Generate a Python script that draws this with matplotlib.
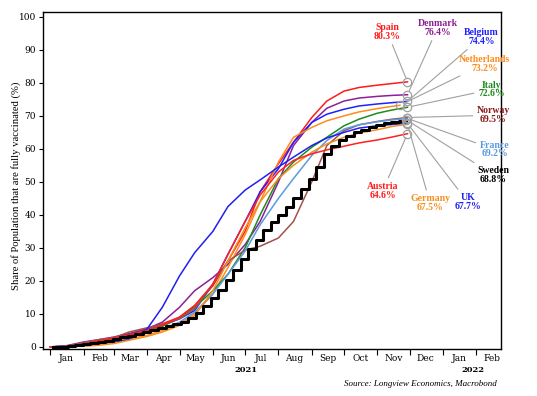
import numpy as np
import pandas as pd
import matplotlib
matplotlib.use('Agg')
import matplotlib.pyplot as plt
import matplotlib.dates as mdates

# semi-monthly readings (share fully vaccinated, %)
dates = ['2021-01-01', '2021-01-15', '2021-02-01', '2021-02-15', '2021-03-01',
         '2021-03-15', '2021-04-01', '2021-04-15', '2021-05-01', '2021-05-15',
         '2021-06-01', '2021-06-15', '2021-07-01', '2021-07-15', '2021-08-01',
         '2021-08-15', '2021-09-01', '2021-09-15', '2021-10-01', '2021-10-15',
         '2021-11-01', '2021-11-15', '2021-11-29']

spain = [0, 0.1, 1.0, 2.0, 2.8, 3.8, 5.5, 7, 9, 12.5, 18.5, 26, 35, 47, 55.5,
         62, 69.5, 74.5, 77.5, 78.6, 79.3, 79.8, 80.3]
denmark = [0, 0.3, 1.5, 2.2, 3, 4, 5.5, 7.5, 12, 17, 21, 25, 31, 38, 50,
           61, 68, 72.3, 74.5, 75.4, 75.9, 76.2, 76.4]
belgium = [0, 0.2, 0.7, 1.5, 2.5, 3.5, 5, 6.5, 8.5, 11, 19, 28, 38, 47, 54,
           62, 68, 70.5, 72, 73, 73.6, 74, 74.4]
netherlands = [0, 0, 0.3, 0.8, 1.5, 2.5, 3.5, 5, 7, 10, 16, 24, 34, 44, 56,
               63.5, 66.5, 68.5, 70, 71.2, 72.2, 72.9, 73.2]
italy = [0, 0.1, 0.5, 1.9, 2.4, 3.3, 4.8, 6.2, 8.8, 12, 17, 22, 30, 40, 51,
         56, 60.5, 63.5, 67, 69, 70.8, 71.8, 72.6]
norway = [0, 0.2, 1.3, 2.2, 2.8, 4.5, 5.8, 6.8, 8.5, 11.5, 19, 26, 29.3, 30.5, 33,
          38, 50, 61, 65.5, 67.3, 68.3, 69, 69.5]
france = [0, 0.1, 0.4, 1.2, 2, 3, 4.2, 5.5, 7.5, 10.5, 16, 22, 29, 37, 45,
          51, 58, 62.5, 66, 67.3, 68.2, 68.8, 69.2]
uk = [0, 0.2, 0.8, 1.0, 1.5, 2.2, 5.5, 12, 21.5, 28.5, 35, 42.5, 47.5, 50.6,
      54.5, 57.5, 61, 63.3, 65, 66.3, 67, 67.4, 67.7]
germany = [0, 0.1, 0.2, 0.5, 1, 2, 3.2, 4.5, 6.5, 9.5, 17, 26, 36, 44, 51,
           55, 59, 61.5, 63.5, 64.8, 65.8, 66.8, 67.5]
austria = [0, 0.1, 0.8, 1.8, 2.6, 3.6, 5, 6.5, 9, 12.5, 19, 28, 38, 46, 53,
           56.5, 58.5, 59.7, 60.8, 61.8, 62.7, 63.6, 64.6]

# Sweden reports weekly (stepped line)
sweden_start = '2021-01-03'
sweden = [0.0, 0.1, 0.3, 0.5, 0.8, 1.1, 1.4, 1.9, 2.4, 2.9, 3.4, 4.0,
          4.6, 5.2, 5.7, 6.3, 6.9, 7.6, 8.7, 10.2, 12.3, 14.8, 17.3, 20.2,
          23.3, 26.5, 29.6, 32.5, 35.5, 37.8, 40.0, 42.5, 45.0, 47.8, 51.0, 54.5,
          58.5, 61.0, 62.8, 64.0, 65.0, 65.8, 66.6, 67.2, 67.7, 68.1, 68.5, 68.8]

countries = ['Spain', 'Denmark', 'Belgium', 'Netherlands', 'Italy', 'Norway',
             'France', 'Sweden', 'UK', 'Germany', 'Austria']
latest = [80.3, 76.4, 74.4, 73.2, 72.6, 69.5, 69.2, 68.8, 67.7, 67.5, 64.6]
last_date = {'Netherlands': '2021-11-22'}

series = {'Spain': spain, 'Denmark': denmark, 'Belgium': belgium,
          'Netherlands': netherlands, 'Italy': italy, 'Norway': norway,
          'France': france, 'UK': uk, 'Germany': germany, 'Austria': austria}

line_colors = {'Spain': '#ff1a1a', 'Denmark': '#8e1f96', 'Belgium': '#1f1fff',
               'Netherlands': '#ff8c1a', 'Italy': '#1e8c1e', 'Norway': '#a0524a',
               'France': '#5b9be0', 'Sweden': '#000000', 'UK': '#2020f0',
               'Germany': '#f5901e', 'Austria': '#ff2020'}
text_colors = dict(line_colors, Norway='#8b1a1a', Austria='#ff1a1a')

# label centre positions (day offset from 2021-01-01, y value)
label_pos = {'Spain': (313, 95.5), 'Denmark': (360, 96.7), 'Belgium': (401, 93.9),
             'Netherlands': (404, 85.8), 'Italy': (410, 78.0), 'Norway': (412, 70.2),
             'France': (413, 59.8), 'Sweden': (412, 52.1), 'UK': (388, 43.9),
             'Germany': (353, 43.6), 'Austria': (309, 47.3)}


def main():
    plt.rcParams['font.family'] = ['DejaVu Serif']
    fig = plt.figure(figsize=(5.37, 3.96), dpi=100)
    ax = fig.add_axes([0.080, 0.119, 0.853, 0.851])

    x = pd.to_datetime(dates)
    base = pd.Timestamp('2021-01-01')
    ends = {}
    for name, vals in series.items():
        xs = list(x)
        if name in last_date:
            xs[-1] = pd.Timestamp(last_date[name])
        ax.plot(xs, vals, color=line_colors[name], lw=1.1, zorder=2)
        ends[name] = (xs[-1], vals[-1])

    sx = pd.date_range(sweden_start, periods=len(sweden), freq='7D')
    ax.plot(sx, sweden, color='black', lw=2.2, drawstyle='steps-post', zorder=3)
    ends['Sweden'] = (sx[-1], sweden[-1])

    for name, val in zip(countries, latest):
        ex, ey = ends[name]
        ax.plot([ex], [ey], 'o', ms=6, mfc='none', mec='#a0a0a0', mew=0.9, zorder=4)
        dx, dy = label_pos[name]
        ax.annotate(f'{name}\n{val:.1f}%', xy=(ex, ey),
                    xytext=(base + pd.Timedelta(days=dx), dy),
                    ha='center', va='center', fontsize=7, fontweight='bold',
                    color=text_colors[name], linespacing=0.95,
                    family='Liberation Serif',
                    arrowprops=dict(arrowstyle='-', color='#a0a0a0', lw=0.8,
                                    shrinkA=1, shrinkB=3),
                    annotation_clip=False, zorder=5)

    ax.set_xlim(pd.Timestamp('2020-12-25'), pd.Timestamp('2022-02-24'))
    ax.set_ylim(-0.6, 101.5)
    ax.set_yticks(range(0, 101, 10))
    ax.tick_params(axis='y', labelsize=6.5, length=3, width=0.8, pad=2)

    ax.xaxis.set_major_locator(mdates.MonthLocator())
    ax.xaxis.set_major_formatter(plt.NullFormatter())
    ax.xaxis.set_minor_locator(mdates.MonthLocator(bymonthday=16))
    ax.xaxis.set_minor_formatter(mdates.DateFormatter('%b'))
    ax.tick_params(axis='x', which='major', length=4, width=0.8)
    ax.tick_params(axis='x', which='minor', length=0, labelsize=6.5, pad=4)

    for s in ax.spines.values():
        s.set_linewidth(1.0)

    ax.set_ylabel('Share of Population that are fully vaccinated (%)', fontsize=7.7,
                  family='Liberation Serif')
    ax.yaxis.set_label_coords(-0.047, 0.484)

    trans = ax.get_xaxis_transform()
    ax.text(base + pd.Timedelta(days=182), -0.063, '2021', transform=trans,
            ha='center', va='center', fontsize=6, fontweight='bold')
    ax.text(base + pd.Timedelta(days=393), -0.063, '2022', transform=trans,
            ha='center', va='center', fontsize=6, fontweight='bold')

    fig.text(497 / 537, 1 - 384 / 396, 'Source: Longview Economics, Macrobond',
             ha='right', va='center', fontsize=6.5, style='italic',
             family='Liberation Serif')

    fig.savefig('out.png', dpi=100)


if __name__ == '__main__':
    main()
